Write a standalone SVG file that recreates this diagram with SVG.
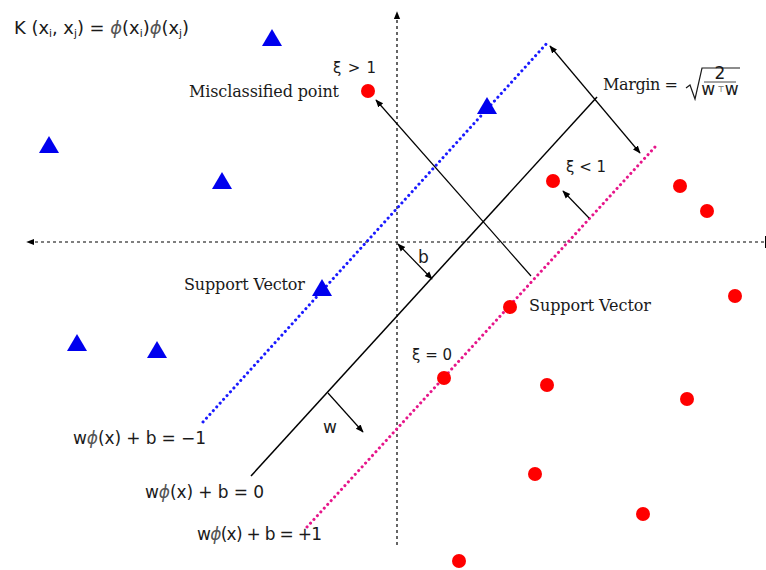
<svg xmlns="http://www.w3.org/2000/svg" width="766" height="570" viewBox="0 0 766 570">
<style>
.sans{font-family:"DejaVu Sans","Liberation Sans",sans-serif;font-size:17px;fill:#1a1a1a}
.xi{font-size:15px}
.serif{font-family:"DejaVu Serif","Liberation Serif",serif;font-size:16px;fill:#1a1a1a}
.phi{fill:#555;font-style:italic}
.sub{font-size:10px}
.axis{stroke:#000;stroke-width:1.2;stroke-dasharray:3 3;fill:none}
.arr{stroke:#000;stroke-width:1.2;fill:none}
.dot{fill:#ff0000}
.tri{fill:#0000ee}
</style>
<defs>
<marker id="ah" viewBox="0 0 10 10" refX="9" refY="5" markerWidth="8" markerHeight="8" markerUnits="userSpaceOnUse" orient="auto-start-reverse">
<path d="M0,1 L10,5 L0,9 z" fill="#000"/>
</marker>
</defs>
<rect width="766" height="570" fill="#fff"/>
<g id="connectors">
<line class="axis" x1="397" y1="545" x2="397" y2="12" marker-end="url(#ah)"/>
<line class="axis" x1="764" y1="242" x2="27" y2="242" marker-end="url(#ah)"/>
<line x1="766" y1="236" x2="766" y2="248" stroke="#000" stroke-width="2"/>
<line x1="203" y1="422" x2="548" y2="42" stroke="#1a1aff" stroke-width="3" stroke-linecap="round" stroke-dasharray="0.1 5"/>
<line x1="251" y1="476" x2="597" y2="97" stroke="#000" stroke-width="1.5"/>
<line x1="307" y1="527" x2="655" y2="147" stroke="#e6168a" stroke-width="3" stroke-linecap="round" stroke-dasharray="0.1 5"/>
<line class="arr" x1="550" y1="46" x2="640" y2="153" marker-start="url(#ah)" marker-end="url(#ah)"/>
<line class="arr" x1="531" y1="276" x2="376" y2="100" marker-end="url(#ah)"/>
<line class="arr" x1="589" y1="218" x2="563" y2="191" marker-end="url(#ah)"/>
<line class="arr" x1="398" y1="244" x2="432" y2="279" marker-start="url(#ah)" marker-end="url(#ah)"/>
<line class="arr" x1="328" y1="393" x2="363" y2="432" marker-end="url(#ah)"/>
</g>
<g id="red-points">
<circle class="dot" cx="368" cy="91" r="7"/>
<circle class="dot" cx="553" cy="181" r="7"/>
<circle class="dot" cx="680" cy="186" r="7"/>
<circle class="dot" cx="707" cy="211" r="7"/>
<circle class="dot" cx="735" cy="296" r="7"/>
<circle class="dot" cx="510" cy="307" r="7"/>
<circle class="dot" cx="444" cy="378" r="7"/>
<circle class="dot" cx="547" cy="385" r="7"/>
<circle class="dot" cx="687" cy="399" r="7"/>
<circle class="dot" cx="535" cy="474" r="7"/>
<circle class="dot" cx="643" cy="514" r="7"/>
<circle class="dot" cx="459" cy="561" r="7"/>
</g>
<g id="blue-points">
<polygon class="tri" points="272,29 262,46 282,46"/>
<polygon class="tri" points="487,97 477,114 497,114"/>
<polygon class="tri" points="49,136 39,153 59,153"/>
<polygon class="tri" points="222,172 212,189 232,189"/>
<polygon class="tri" points="322,279 312,296 332,296"/>
<polygon class="tri" points="77,334 67,351 87,351"/>
<polygon class="tri" points="157,341 147,358 167,358"/>
</g>
<g id="labels">
<text class="sans" x="14" y="34" textLength="175" lengthAdjust="spacingAndGlyphs" font-size="16">K (x<tspan class="sub" dy="3">i</tspan><tspan dy="-3">, x</tspan><tspan class="sub" dy="3">j</tspan><tspan dy="-3">) = </tspan><tspan class="phi"> ϕ</tspan>(x<tspan class="sub" dy="3">i</tspan><tspan dy="-3">)</tspan><tspan class="phi">ϕ</tspan>(x<tspan class="sub" dy="3">j</tspan><tspan dy="-3">)</tspan></text>
<text class="sans xi" x="333" y="73" textLength="43" lengthAdjust="spacing">ξ &gt; 1</text>
<text class="serif" x="189" y="97" textLength="150">Misclassified point</text>
<text class="serif" x="603" y="90" textLength="75">Margin =</text>
<path d="M686,88 L690,85 L695,99 L702,68 L740,68" fill="none" stroke="#1a1a1a" stroke-width="1.2"/>
<text class="sans" x="720" y="79" font-size="10" text-anchor="middle">2</text>
<line x1="704" y1="82" x2="736" y2="82" stroke="#1a1a1a" stroke-width="0.8"/>
<text class="sans" x="720" y="95" font-size="10" text-anchor="middle">w<tspan font-size="8" dy="-3"> ⊤</tspan><tspan dy="3">w</tspan></text>
<text class="sans xi" x="566" y="172" textLength="40" lengthAdjust="spacing">ξ &lt; 1</text>
<text class="sans" x="418" y="263">b</text>
<text class="serif" x="184" y="290" textLength="121">Support Vector</text>
<text class="serif" x="529" y="311" textLength="122">Support Vector</text>
<text class="sans xi" x="412" y="360" textLength="40" lengthAdjust="spacing">ξ = 0</text>
<text class="sans" x="323" y="433">w</text>
<text class="sans" x="73" y="444" textLength="133" lengthAdjust="spacing">w<tspan class="phi">ϕ</tspan>(x) +  b = −1</text>
<text class="sans" x="145" y="498" textLength="119" lengthAdjust="spacing">w<tspan class="phi">ϕ</tspan>(x) +  b =  0</text>
<text class="sans" x="197" y="540" textLength="125" lengthAdjust="spacing">w<tspan class="phi">ϕ</tspan>(x) +  b = +1</text>
</g>
</svg>
